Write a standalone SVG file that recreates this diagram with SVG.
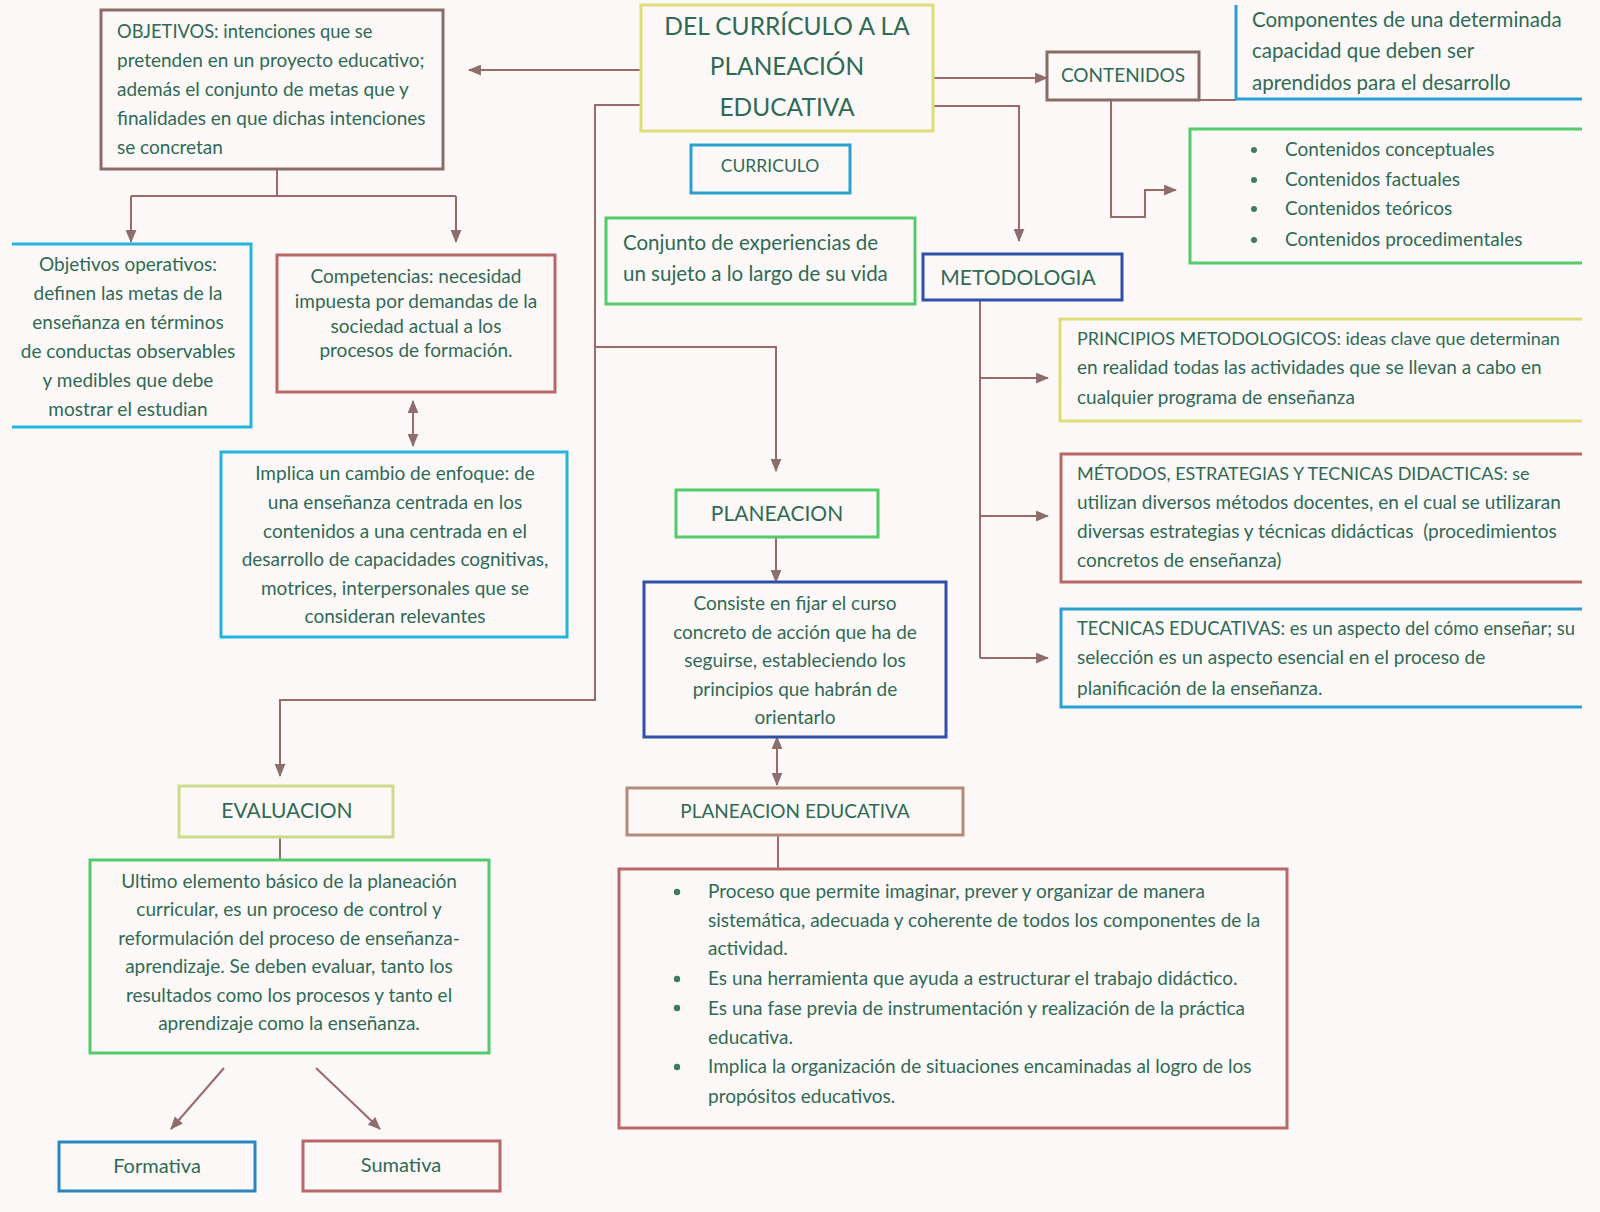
<svg xmlns="http://www.w3.org/2000/svg" width="1600" height="1212" viewBox="0 0 1600 1212">
<defs>
<style>
.t{font-family:Lato,"Open Sans","Liberation Sans",sans-serif;fill:#2f6a55;font-size:19px}
.c{text-anchor:middle}
.box{fill:none;stroke-width:3}
.con{fill:none;stroke:#9a6a68;stroke-width:2}
.yel{stroke:#dede78}
.blu{stroke:#2aa0d2}
.cya{stroke:#22b4dc}
.grn{stroke:#52cc6a}
.brn{stroke:#8a6c66}
.red{stroke:#b86866}
.nav{stroke:#2f4fa8}
.ygr{stroke:#cddc8a}
</style>
<marker id="ah" viewBox="0 0 12 10" refX="11" refY="5" markerWidth="13" markerHeight="11" markerUnits="userSpaceOnUse" orient="auto-start-reverse">
<path d="M0,0 L12,5 L0,10 Z" fill="#8e6e6c"/>
</marker>
</defs>
<rect width="1600" height="1212" fill="#fcf8f7"/>

<g id="connectors">
<path class="con" d="M641,70 H469" marker-end="url(#ah)"/>
<path class="con" d="M933,78 H1047" marker-end="url(#ah)"/>
<path class="con" d="M933,106 H1019 V241" marker-end="url(#ah)"/>
<path class="con" d="M1111,100 V217 H1145 V190 H1176" marker-end="url(#ah)"/>
<path class="con" d="M1199,100 H1236"/>
<path class="con" d="M641,105 H595 V700 H280 V776" marker-end="url(#ah)"/>
<path class="con" d="M595,347 H776 V471" marker-end="url(#ah)"/>
<path class="con" d="M277,169 V196"/>
<path class="con" d="M131,196 H456"/>
<path class="con" d="M131,196 V242" marker-end="url(#ah)"/>
<path class="con" d="M456,196 V242" marker-end="url(#ah)"/>
<path class="con" d="M413,401 V446" marker-start="url(#ah)" marker-end="url(#ah)"/>
<path class="con" d="M776,537 V582" marker-end="url(#ah)"/>
<path class="con" d="M777,737 V785" marker-start="url(#ah)" marker-end="url(#ah)"/>
<path class="con" d="M778,835 V869"/>
<path class="con" d="M280,837 V860"/>
<path class="con" d="M224,1068 L171,1129" marker-end="url(#ah)"/>
<path class="con" d="M316,1068 L380,1129" marker-end="url(#ah)"/>
<path class="con" d="M980,300 V658"/>
<path class="con" d="M980,378 H1048" marker-end="url(#ah)"/>
<path class="con" d="M980,516 H1048" marker-end="url(#ah)"/>
<path class="con" d="M980,658 H1048" marker-end="url(#ah)"/>
</g>

<g id="title">
<rect class="box yel" x="641" y="5" width="292" height="126"/>
<text class="t c" x="787" y="35" style="font-size:24.5px">DEL CURRÍCULO A LA</text>
<text class="t c" x="787" y="75" style="font-size:24.5px">PLANEACIÓN</text>
<text class="t c" x="787" y="116" style="font-size:24.5px">EDUCATIVA</text>
</g>

<g id="curriculo">
<rect class="box blu" x="691" y="145" width="159" height="48"/>
<text class="t c" x="770" y="172" style="font-size:17.5px">CURRICULO</text>
</g>

<g id="conjunto">
<rect class="box grn" x="606" y="218" width="309" height="86"/>
<text class="t" x="623" y="250" style="font-size:20.5px">Conjunto de experiencias de</text>
<text class="t" x="623" y="281" style="font-size:20.5px">un sujeto a lo largo de su vida</text>
</g>

<g id="objetivos">
<rect class="box brn" x="101" y="10" width="342" height="159"/>
<text class="t" x="117" y="38" style="font-size:18.3px">OBJETIVOS: intenciones que se</text>
<text class="t" x="117" y="67">pretenden en un proyecto educativo;</text>
<text class="t" x="117" y="96">además el conjunto de metas que y</text>
<text class="t" x="117" y="125">finalidades en que dichas intenciones</text>
<text class="t" x="117" y="154">se concretan</text>
</g>

<g id="obj-operativos">
<path class="box cya" d="M12,244 H251 V427 H12"/>
<text class="t c" x="128" y="271">Objetivos operativos:</text>
<text class="t c" x="128" y="300">definen las metas de la</text>
<text class="t c" x="128" y="329">enseñanza en términos</text>
<text class="t c" x="128" y="358">de conductas observables</text>
<text class="t c" x="128" y="387">y medibles que debe</text>
<text class="t c" x="128" y="416">mostrar el estudian</text>
</g>

<g id="competencias">
<rect class="box red" x="277" y="255" width="278" height="137"/>
<text class="t c" x="416" y="283">Competencias: necesidad</text>
<text class="t c" x="416" y="308">impuesta por demandas de la</text>
<text class="t c" x="416" y="333">sociedad actual a los</text>
<text class="t c" x="416" y="357">procesos de formación.</text>
</g>

<g id="implica">
<rect class="box cya" x="221" y="452" width="346" height="185"/>
<text class="t c" x="395" y="480">Implica un cambio de enfoque: de</text>
<text class="t c" x="395" y="509">una enseñanza centrada en los</text>
<text class="t c" x="395" y="538">contenidos a una centrada en el</text>
<text class="t c" x="395" y="566">desarrollo de capacidades cognitivas,</text>
<text class="t c" x="395" y="595">motrices, interpersonales que se</text>
<text class="t c" x="395" y="623">consideran relevantes</text>
</g>

<g id="contenidos">
<rect class="box brn" x="1047" y="52" width="152" height="48"/>
<text class="t c" x="1123" y="82">CONTENIDOS</text>
</g>

<g id="componentes">
<path class="box blu" d="M1236,5 V99 H1582"/>
<text class="t" x="1252" y="27" style="font-size:20.5px">Componentes de una determinada</text>
<text class="t" x="1252" y="58" style="font-size:20.5px">capacidad que deben ser</text>
<text class="t" x="1252" y="90" style="font-size:20.5px">aprendidos para el desarrollo</text>
</g>

<g id="tipos-contenidos">
<path class="box grn" d="M1582,129 H1190 V263 H1582"/>
<circle cx="1254" cy="150" r="3" fill="#3f7a62"/>
<circle cx="1254" cy="180" r="3" fill="#3f7a62"/>
<circle cx="1254" cy="209" r="3" fill="#3f7a62"/>
<circle cx="1254" cy="240" r="3" fill="#3f7a62"/>
<text class="t" x="1285" y="156">Contenidos conceptuales</text>
<text class="t" x="1285" y="186">Contenidos factuales</text>
<text class="t" x="1285" y="215">Contenidos teóricos</text>
<text class="t" x="1285" y="246">Contenidos procedimentales</text>
</g>

<g id="metodologia">
<rect class="box nav" x="923" y="254" width="199" height="46"/>
<text class="t c" x="1018" y="285" style="font-size:21px">METODOLOGIA</text>
</g>

<g id="principios">
<path class="box yel" d="M1582,319 H1060 V421 H1582"/>
<text class="t" x="1077" y="345" style="font-size:18px">PRINCIPIOS METODOLOGICOS: ideas clave que determinan</text>
<text class="t" x="1077" y="374">en realidad todas las actividades que se llevan a cabo en</text>
<text class="t" x="1077" y="404">cualquier programa de enseñanza</text>
</g>

<g id="metodos">
<path class="box red" d="M1582,454 H1061 V582 H1582"/>
<text class="t" x="1077" y="480" style="font-size:18px">MÉTODOS, ESTRATEGIAS Y TECNICAS DIDACTICAS: se</text>
<text class="t" x="1077" y="509">utilizan diversos métodos docentes, en el cual se utilizaran</text>
<text class="t" x="1077" y="538" xml:space="preserve">diversas estrategias y técnicas didácticas  (procedimientos</text>
<text class="t" x="1077" y="567">concretos de enseñanza)</text>
</g>

<g id="tecnicas">
<path class="box blu" d="M1582,609 H1061 V707 H1582"/>
<text class="t" x="1077" y="635" style="font-size:18.4px">TECNICAS EDUCATIVAS: es un aspecto del cómo enseñar; su</text>
<text class="t" x="1077" y="664">selección es un aspecto esencial en el proceso de</text>
<text class="t" x="1077" y="695">planificación de la enseñanza.</text>
</g>

<g id="planeacion">
<rect class="box grn" x="676" y="490" width="202" height="47"/>
<text class="t c" x="777" y="521" style="font-size:21px">PLANEACION</text>
</g>

<g id="consiste">
<rect class="box nav" x="644" y="582" width="302" height="155"/>
<text class="t c" x="795" y="610">Consiste en fijar el curso</text>
<text class="t c" x="795" y="639">concreto de acción que ha de</text>
<text class="t c" x="795" y="667">seguirse, estableciendo los</text>
<text class="t c" x="795" y="696">principios que habrán de</text>
<text class="t c" x="795" y="724">orientarlo</text>
</g>

<g id="planeacion-educativa">
<rect class="box brn" x="627" y="788" width="336" height="47" style="stroke:#b48a78"/>
<text class="t c" x="795" y="818">PLANEACION EDUCATIVA</text>
</g>

<g id="planeacion-lista">
<rect class="box red" x="619" y="869" width="668" height="259"/>
<circle cx="677" cy="892" r="3.2" fill="#3f7a62"/>
<circle cx="677" cy="979" r="3.2" fill="#3f7a62"/>
<circle cx="677" cy="1008" r="3.2" fill="#3f7a62"/>
<circle cx="677" cy="1067" r="3.2" fill="#3f7a62"/>
<text class="t" x="708" y="898">Proceso que permite imaginar, prever y organizar de manera</text>
<text class="t" x="708" y="927">sistemática, adecuada y coherente de todos los componentes de la</text>
<text class="t" x="708" y="955">actividad.</text>
<text class="t" x="708" y="985">Es una herramienta que ayuda a estructurar el trabajo didáctico.</text>
<text class="t" x="708" y="1015">Es una fase previa de instrumentación y realización de la práctica</text>
<text class="t" x="708" y="1044">educativa.</text>
<text class="t" x="708" y="1073">Implica la organización de situaciones encaminadas al logro de los</text>
<text class="t" x="708" y="1103">propósitos educativos.</text>
</g>

<g id="evaluacion">
<rect class="box ygr" x="179" y="786" width="214" height="51"/>
<text class="t c" x="287" y="818" style="font-size:21px">EVALUACION</text>
</g>

<g id="ultimo">
<rect class="box grn" x="90" y="860" width="399" height="193"/>
<text class="t c" x="289" y="888">Ultimo elemento básico de la planeación</text>
<text class="t c" x="289" y="916">curricular, es un proceso de control y</text>
<text class="t c" x="289" y="945">reformulación del proceso de enseñanza-</text>
<text class="t c" x="289" y="973">aprendizaje. Se deben evaluar, tanto los</text>
<text class="t c" x="289" y="1002">resultados como los procesos y tanto el</text>
<text class="t c" x="289" y="1030">aprendizaje como la enseñanza.</text>
</g>

<g id="formativa">
<rect class="box blu" x="59" y="1142" width="196" height="49" style="stroke:#2a86c0"/>
<text class="t c" x="157" y="1173" style="font-size:20px">Formativa</text>
</g>

<g id="sumativa">
<rect class="box red" x="303" y="1141" width="197" height="50"/>
<text class="t c" x="401" y="1172" style="font-size:20px">Sumativa</text>
</g>
</svg>
